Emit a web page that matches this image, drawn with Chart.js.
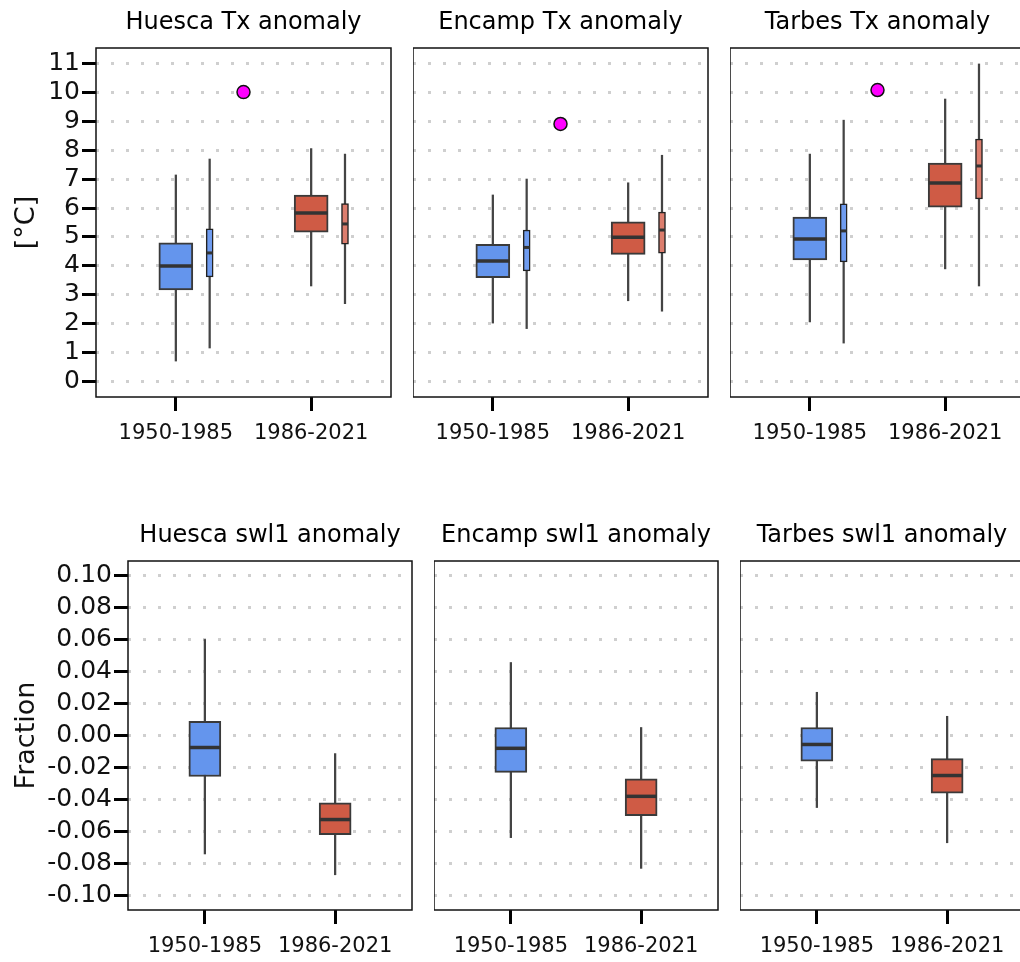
<!DOCTYPE html>
<html lang="en">
<head>
<meta charset="UTF-8">
<title>Tx and swl1 anomaly box plots</title>
<script src="https://cdn.jsdelivr.net/npm/chart.js@4.4.0/dist/chart.umd.min.js"></script>
<style>
  html, body { margin: 0; padding: 0; background: #fff; overflow: hidden; }
  .page { position: relative; width: 1020px; height: 962px; overflow: hidden; }
  .panel { position: absolute; }
</style>
</head>
<body>
<div class="page">
  <canvas class="panel" id="c0" width="394" height="460" style="left:0;top:0"></canvas>
  <canvas class="panel" id="c1" width="298" height="460" style="left:413px;top:0"></canvas>
  <canvas class="panel" id="c2" width="298" height="460" style="left:730px;top:0"></canvas>
  <canvas class="panel" id="c3" width="415" height="460" style="left:0;top:513px"></canvas>
  <canvas class="panel" id="c4" width="287" height="460" style="left:434px;top:513px"></canvas>
  <canvas class="panel" id="c5" width="287" height="460" style="left:740px;top:513px"></canvas>
</div>

<script>
// periods on the x axis
const periods = ['1950-1985', '1986-2021'];

// box stats per period: [whisker low, q1, median, q3, whisker high]
// Tx anomaly (°C), wide boxes
const huescaTxMain  = [[0.72, 3.17, 4.00, 4.80, 7.14], [3.31, 5.17, 5.83, 6.45, 8.05]];
const encampTxMain  = [[2.03, 3.60, 4.17, 4.75, 6.45], [2.80, 4.40, 4.99, 5.52, 6.87]];
const tarbesTxMain  = [[2.07, 4.21, 4.93, 5.69, 7.86], [3.90, 6.03, 6.86, 7.55, 9.76]];
// Tx anomaly (°C), narrow boxes
const huescaTxSmall = [[1.17, 3.62, 4.45, 5.28, 7.69], [2.70, 4.75, 5.45, 6.15, 7.86]];
const encampTxSmall = [[1.84, 3.83, 4.64, 5.24, 7.00], [2.44, 4.44, 5.24, 5.86, 7.82]];
const tarbesTxSmall = [[1.34, 4.14, 5.21, 6.14, 9.03], [3.31, 6.31, 7.45, 8.38, 10.97]];
// single Tx marker per site
const txMarker = [10.00, 8.90, 10.07];

// swl1 anomaly (fraction)
const huescaSwl = [[-0.074, -0.0256, -0.0075, 0.0088, 0.060], [-0.087, -0.062, -0.0525, -0.042, -0.0113]];
const encampSwl = [[-0.0638, -0.023, -0.008, 0.005, 0.0456], [-0.083, -0.050, -0.038, -0.027, 0.005]];
const tarbesSwl = [[-0.045, -0.016, -0.0056, 0.005, 0.027], [-0.067, -0.036, -0.025, -0.0144, 0.012]];

// tick labels
const txTicks = [0, 1, 2, 3, 4, 5, 6, 7, 8, 9, 10, 11];
const swlTicks = [-0.10, -0.08, -0.06, -0.04, -0.02, 0.00, 0.02, 0.04, 0.06, 0.08, 0.10];

const FONT = '"DejaVu Sans", sans-serif';
const BLUE = '#6495ed', RED = '#cf5b45';
const BLUE_LT = '#6f9cf0', RED_LT = '#dc7d6d';

// title + full frame around the plot area
const panelDeco = {
  id: 'panelDeco',
  afterDraw(chart, args, opts) {
    const { ctx, chartArea: a } = chart;
    ctx.save();
    ctx.lineWidth = 1.5;
    ctx.strokeStyle = '#111';
    ctx.strokeRect(a.left, a.top, a.right - a.left, a.bottom - a.top);
    ctx.font = '24px ' + FONT;
    ctx.fillStyle = '#000';
    ctx.textAlign = 'center';
    ctx.textBaseline = 'middle';
    ctx.fillText(opts.text, (a.left + a.right) / 2, a.top - 25);
    ctx.restore();
  }
};

// one box group (whiskers, box, median) at x offset
function boxSets(stats, offset, width, colors, edge, edgeW) {
  const xs = stats.map((s, i) => i + offset);
  return [
    {
      type: 'bar', order: 5, grouped: false, barThickness: 1.6,
      backgroundColor: '#444',
      data: stats.map((s, i) => ({ x: xs[i], y: [s[0], s[4]] }))
    },
    {
      type: 'bar', order: 4, grouped: false, barThickness: width,
      backgroundColor: colors, borderColor: edge, borderWidth: edgeW, borderSkipped: false,
      data: stats.map((s, i) => ({ x: xs[i], y: [s[1], s[3]] }))
    },
    {
      type: 'scatter', order: 3, pointStyle: 'line', pointRadius: width / 2 - 0.5,
      borderColor: '#333', borderWidth: width > 10 ? 3.5 : 3,
      data: stats.map((s, i) => ({ x: xs[i], y: s[2] }))
    }
  ];
}

function makePanel(id, cfg) {
  const yAxisW = cfg.yLabel ? cfg.yAxisW : 0;
  new Chart(document.getElementById(id), {
    type: 'bar',
    data: { datasets: cfg.datasets },
    plugins: [panelDeco],
    options: {
      responsive: false,
      animation: false,
      events: [],
      layout: { autoPadding: false, padding: { top: 48, right: 3, left: 0, bottom: 0 } },
      plugins: {
        legend: { display: false },
        tooltip: { enabled: false },
        panelDeco: { text: cfg.title }
      },
      scales: {
        x: {
          type: 'linear', min: -0.59, max: 1.59, offset: false,
          afterBuildTicks: s => { s.ticks = periods.map((p, i) => ({ value: i })); },
          afterFit: s => { s.height = 63; s.paddingLeft = 0; s.paddingRight = 0; },
          border: { display: false },
          grid: { drawOnChartArea: false, offset: false, tickLength: 14, tickWidth: 3, tickColor: '#000' },
          ticks: {
            padding: 10, color: '#111', maxRotation: 0, autoSkip: false,
            font: { family: FONT, size: 21 },
            callback: v => periods[v]
          }
        },
        y: {
          min: cfg.yMin, max: cfg.yMax,
          afterBuildTicks: s => { s.ticks = cfg.ticks.map(v => ({ value: v })); },
          afterFit: s => { s.width = yAxisW; s.paddingTop = 0; s.paddingBottom = 0; },
          border: { display: false, dash: [3, 12] },
          grid: {
            color: '#cfcfcf', lineWidth: 3,
            drawTicks: !!cfg.yLabel, tickLength: 14, tickWidth: 3, tickColor: '#000', tickBorderDash: []
          },
          ticks: {
            display: !!cfg.yLabel, padding: 2, color: '#111', autoSkip: false,
            font: { family: FONT, size: 25 },
            callback: cfg.fmt
          },
          title: {
            display: !!cfg.yLabel, text: cfg.yLabel, color: '#111',
            font: { family: FONT, size: 27 },
            padding: { top: 11, bottom: 0 }
          }
        }
      }
    }
  });
}

function txDatasets(main, small, markerVal) {
  return [
    ...boxSets(main, 0, 34, [BLUE, RED], '#3a3a3a', 2),
    ...boxSets(small, 0.25, 7, [BLUE_LT, RED_LT], '#222', 1.5),
    {
      type: 'scatter', order: 1, pointRadius: 6.5, pointBackgroundColor: '#ff00ff',
      pointBorderColor: '#111', pointBorderWidth: 1.5,
      data: [{ x: 0.5, y: markerVal }]
    }
  ];
}

const txFmt = v => String(v);
const swlFmt = v => v.toFixed(2);

const txSites = [
  ['c0', 'Huesca Tx anomaly', huescaTxMain, huescaTxSmall, txMarker[0], '[°C]'],
  ['c1', 'Encamp Tx anomaly', encampTxMain, encampTxSmall, txMarker[1], null],
  ['c2', 'Tarbes Tx anomaly', tarbesTxMain, tarbesTxSmall, txMarker[2], null]
];
txSites.forEach(([id, title, main, small, mk, lab]) => {
  makePanel(id, {
    title, yLabel: lab, yAxisW: 96, yMin: -0.52, yMax: 11.52,
    ticks: txTicks, fmt: txFmt, datasets: txDatasets(main, small, mk)
  });
});

const swlSites = [
  ['c3', 'Huesca swl1 anomaly', huescaSwl, 'Fraction'],
  ['c4', 'Encamp swl1 anomaly', encampSwl, null],
  ['c5', 'Tarbes swl1 anomaly', tarbesSwl, null]
];
swlSites.forEach(([id, title, stats, lab]) => {
  makePanel(id, {
    title, yLabel: lab, yAxisW: 128, yMin: -0.109, yMax: 0.109,
    ticks: swlTicks, fmt: swlFmt, datasets: boxSets(stats, 0, 32, [BLUE, RED], '#3a3a3a', 2)
  });
});
</script>
</body>
</html>
